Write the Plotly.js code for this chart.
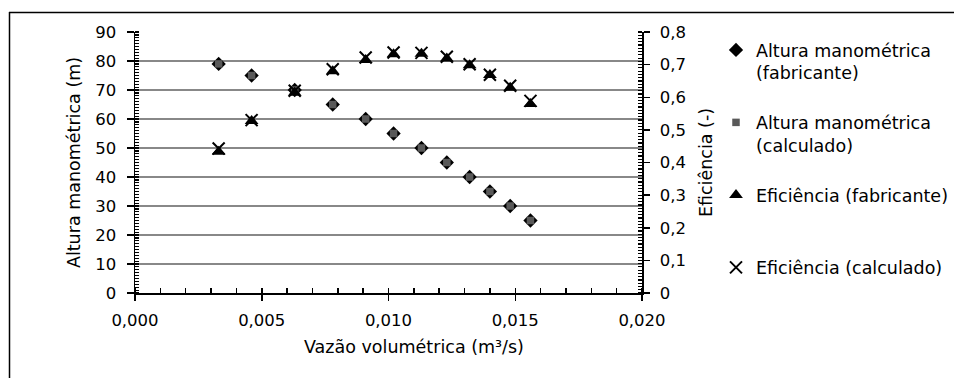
<!DOCTYPE html>
<html>
<head>
<meta charset="utf-8">
<script src="https://cdn.plot.ly/plotly-3.0.1.min.js"></script>
<style>
html,body{margin:0;padding:0;background:#fff;}
#chart{width:954px;height:378px;}
</style>
</head>
<body>
<div id="chart"></div>
<script>
// Data
const flow = [0.0033, 0.0046, 0.0063, 0.0078, 0.0091, 0.0102, 0.0113, 0.0123, 0.0132, 0.0140, 0.0148, 0.0156];
const headMfr = [79, 75, 70, 65, 60, 55, 50, 45, 40, 35, 30, 25];
const headCalc = [79, 75, 70, 65, 60, 55, 50, 45, 40, 35, 30, 25];
const effMfr = [0.433, 0.527, 0.614, 0.680, 0.714, 0.732, 0.733, 0.719, 0.698, 0.668, 0.629, 0.579];
const effCalc = [0.443, 0.530, 0.620, 0.686, 0.722, 0.737, 0.736, 0.724, 0.701, 0.669, 0.635, 0.589];

const seriesNames = [
  'Altura manométrica<br>(fabricante)',
  'Altura manométrica<br>(calculado)',
  'Eficiência (fabricante)<br>\u00a0',
  'Eficiência (calculado)<br>\u00a0'
];
const xTitle = 'Vazão volumétrica (m³/s)';
const yTitle = 'Altura manométrica (m)';
const y2Title = 'Eficiência (-)';

const FONT = 'DejaVu Sans, sans-serif';
const FS = 16.5;   // tick labels
const FT = 17.5;   // titles and legend

const traces = [
  {x: flow, y: headMfr, name: seriesNames[0], type: 'scatter', mode: 'markers', legendgroup: 'a',
   marker: {symbol: 'diamond', size: 11, color: '#000000'}},
  {x: flow, y: headCalc, name: seriesNames[1], type: 'scatter', mode: 'markers', legendgroup: 'b',
   marker: {symbol: 'square', size: 7.5, color: '#595959'}},
  {x: flow, y: effMfr, name: seriesNames[2], type: 'scatter', mode: 'markers', yaxis: 'y2', legendgroup: 'c',
   marker: {symbol: 'triangle-up', size: 12, color: '#000000'}},
  {x: flow, y: effCalc, name: seriesNames[3], type: 'scatter', mode: 'markers', yaxis: 'y2', legendgroup: 'd',
   marker: {symbol: 'x-thin', size: 12, color: '#000000', line: {color: '#000000', width: 2}}}
];

const plotL = 135, plotR = 642, plotT = 32, plotB = 293;
const W = 954, H = 378;
const pw = plotR - plotL, ph = plotB - plotT;
function px2x(px){ return (px - plotL) / pw; }
function px2y(py){ return (plotB - py) / ph; }

const layout = {
  width: W, height: H,
  margin: {l: plotL, r: W - plotR, t: plotT, b: H - plotB, pad: 0},
  paper_bgcolor: '#ffffff', plot_bgcolor: '#ffffff',
  separators: ',.',
  font: {family: FONT, size: FS, color: '#000000'},
  showlegend: true,
  xaxis: {
    range: [0, 0.02], dtick: 0.005, tick0: 0, tickformat: '.3f',
    showline: true, linecolor: '#000000', linewidth: 1.5,
    ticks: 'outside', ticklen: 6, tickwidth: 1.5, tickcolor: '#000000',
    minor: {dtick: 0.001, ticks: 'inside', ticklen: 5, tickwidth: 1.5, tickcolor: '#000000', showgrid: false},
    showgrid: false, zeroline: false, ticklabelstandoff: 6,
    tickfont: {family: FONT, size: FS, color: '#000000'}
  },
  yaxis: {
    range: [0, 90], dtick: 10, tick0: 0,
    showline: true, linecolor: '#000000', linewidth: 1.5,
    ticks: 'outside', ticklen: 7, tickwidth: 1.5, tickcolor: '#000000',
    minor: {dtick: 1, ticks: 'inside', ticklen: 4, tickwidth: 1.2, tickcolor: '#000000', showgrid: false},
    showgrid: true, gridcolor: '#888888', gridwidth: 1.5, zeroline: false,
    ticklabelstandoff: 7,
    tickfont: {family: FONT, size: FS, color: '#000000'},
    title: {text: yTitle, font: {family: FONT, size: FT, color: '#000000'}, standoff: 10}
  },
  yaxis2: {
    range: [0, 0.8], dtick: 0.1, tick0: 0, overlaying: 'y', side: 'right',
    showline: true, linecolor: '#000000', linewidth: 1.5,
    ticks: 'outside', ticklen: 6, tickwidth: 1.5, tickcolor: '#000000',
    minor: {dtick: 0.01, ticks: 'inside', ticklen: 4, tickwidth: 1.2, tickcolor: '#000000', showgrid: false},
    showgrid: false, zeroline: false, ticklabelstandoff: 7,
    tickfont: {family: FONT, size: FS, color: '#000000'},
    title: {text: y2Title, font: {family: FONT, size: FT, color: '#000000'}, standoff: 20}
  },
  legend: {
    xref: 'container', yref: 'container',
    x: 716 / W, y: 1 - 32 / H, xanchor: 'left', yanchor: 'top',
    traceorder: 'grouped', tracegroupgap: 24, valign: 'top',
    itemwidth: 30, borderwidth: 0, bgcolor: 'rgba(0,0,0,0)', maxheight: 378,
    font: {family: FONT, size: FT, color: '#000000'}
  },
  annotations: [{
    text: xTitle, xref: 'paper', yref: 'paper',
    x: px2x(414), y: px2y(347), xanchor: 'center', yanchor: 'middle',
    showarrow: false, font: {family: FONT, size: FT, color: '#000000'}
  }],
  shapes: [
    {type: 'line', xref: 'paper', yref: 'paper', x0: px2x(9.5), x1: px2x(9.5), y0: px2y(12), y1: px2y(380),
     line: {color: '#000000', width: 1.5}},
    {type: 'line', xref: 'paper', yref: 'paper', x0: px2x(9), x1: px2x(960), y0: px2y(12.5), y1: px2y(12.5),
     line: {color: '#000000', width: 1.5}}
  ]
};

Plotly.newPlot('chart', traces, layout, {displayModeBar: false, staticPlot: true});
</script>
</body>
</html>
